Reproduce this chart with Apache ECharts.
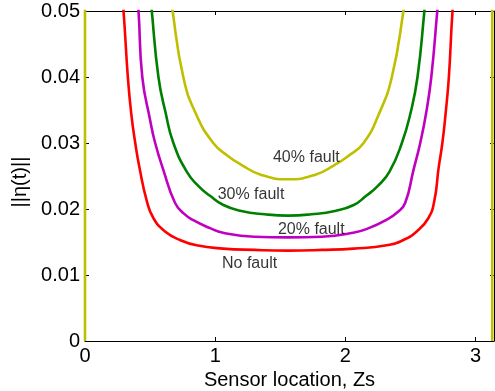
<!DOCTYPE html>
<html>
<head>
<meta charset="utf-8">
<script src="https://cdn.jsdelivr.net/npm/echarts@6/dist/echarts.min.js"></script>
<style>
html,body{margin:0;padding:0;background:#fff;}
#c{width:495px;height:391px;}
</style>
</head>
<body>
<div id="c"></div>
<script>
// Data: [Zs, ||eta(t)||]
const noFault = [[0.28,0.053],[0.296,0.05],[0.329,0.040],[0.355,0.0345],[0.386,0.030],[0.419,0.0262],[0.475,0.0212],[0.526,0.0186],[0.615,0.0166],[0.73,0.0153],[0.857,0.0145],[1.06,0.0140],[1.3,0.0138],[1.56,0.0137],[1.82,0.0138],[2.064,0.0140],[2.318,0.0145],[2.446,0.0153],[2.548,0.0166],[2.637,0.0186],[2.683,0.0212],[2.716,0.0262],[2.745,0.030],[2.77,0.0345],[2.795,0.040],[2.823,0.05],[2.84,0.053]];
const fault20 = [[0.395,0.053],[0.411,0.05],[0.44,0.040],[0.50,0.0335],[0.539,0.030],[0.602,0.0259],[0.692,0.0209],[0.76,0.0193],[0.832,0.0183],[0.96,0.0171],[1.06,0.0164],[1.3,0.0158],[1.56,0.0157],[1.82,0.0158],[2.06,0.0164],[2.18,0.0171],[2.318,0.0184],[2.40,0.0195],[2.459,0.0209],[2.523,0.0259],[2.575,0.030],[2.62,0.0345],[2.66,0.040],[2.706,0.05],[2.72,0.053]];
const fault30 = [[0.50,0.053],[0.513,0.05],[0.564,0.040],[0.62,0.0345],[0.679,0.030],[0.78,0.0257],[0.87,0.0235],[0.96,0.0220],[1.063,0.0206],[1.2,0.0197],[1.38,0.0192],[1.56,0.0190],[1.74,0.0192],[1.92,0.0197],[2.064,0.0206],[2.16,0.0220],[2.25,0.0235],[2.34,0.0257],[2.434,0.030],[2.50,0.0345],[2.554,0.040],[2.607,0.05],[2.62,0.053]];
const fault40 = [[0.66,0.053],[0.673,0.05],[0.755,0.040],[0.85,0.0345],[0.985,0.030],[1.1,0.0280],[1.2,0.0267],[1.35,0.0252],[1.56,0.0245],[1.77,0.0252],[1.92,0.0267],[2.02,0.0280],[2.14,0.030],[2.26,0.0345],[2.357,0.040],[2.446,0.05],[2.46,0.053]];
const fault40EdgeLeft = [[0,0],[0,0.053]];
const fault40EdgeRight = [[3.128,0],[3.128,0.053]];
const curveLabels = ['40% fault','30% fault','20% fault','No fault'];
const labelPos = [[1.70,0.0278],[1.275,0.0222],[1.738,0.0169],[1.264,0.0117]];
const xTicks = [0,1,2,3];
const yTicks = [0,0.01,0.02,0.03,0.04,0.05];
const xTitle = 'Sensor location, Zs';
const yTitle = '||\u03b7(t)||';

const FONT = 'Liberation Sans';
const chart = echarts.init(document.getElementById('c'), null, {renderer:'canvas'});
const axisLineStyle = {lineStyle:{color:'#000', width:1}};
function lineSeries(data, color, name){
  return {type:'line', name:name, data:data, smooth:0.5, showSymbol:false, symbol:'none',
    lineStyle:{color:color, width:2.6}, clip:true, silent:true, z:2};
}
chart.setOption({
  animation:false,
  backgroundColor:'#fff',
  grid:{left:85, right:1, top:11, bottom:50, containLabel:false, outerBoundsMode:'none'},
  xAxis:[{
    type:'value', min:0, max:Math.PI, position:'bottom',
    axisLine:{show:true, onZero:false, ...axisLineStyle},
    axisTick:{show:true, inside:true, length:4, customValues:xTicks, lineStyle:{color:'#000'}},
    axisLabel:{show:true, customValues:xTicks, color:'#000', fontFamily:FONT, fontSize:20, margin:5},
    splitLine:{show:false},
    name:xTitle, nameLocation:'middle', nameGap:26,
    nameTextStyle:{color:'#000', fontFamily:FONT, fontSize:20}
  },{
    type:'value', min:0, max:Math.PI, position:'top',
    axisLine:{show:true, onZero:false, ...axisLineStyle},
    axisTick:{show:true, inside:true, length:4, customValues:xTicks, lineStyle:{color:'#000'}},
    axisLabel:{show:false}, splitLine:{show:false}
  }],
  yAxis:[{
    type:'value', min:0, max:0.05, interval:0.01, position:'left',
    axisLine:{show:true, onZero:false, ...axisLineStyle},
    axisTick:{show:true, inside:true, length:4, customValues:yTicks, lineStyle:{color:'#000'}},
    axisLabel:{show:true, customValues:yTicks, color:'#000', fontFamily:FONT, fontSize:20, margin:5,
      formatter:function(v){return String(+v.toFixed(2));}},
    splitLine:{show:false},
    name:yTitle, nameLocation:'middle', nameGap:45, nameRotate:90,
    nameTextStyle:{color:'#000', fontFamily:FONT, fontSize:20, padding:[0,12,0,0]}
  },{
    type:'value', min:0, max:0.05, interval:0.01, position:'right',
    axisLine:{show:true, onZero:false, ...axisLineStyle},
    axisTick:{show:true, inside:true, length:4, customValues:yTicks, lineStyle:{color:'#000'}},
    axisLabel:{show:false}, splitLine:{show:false}
  }],
  series:[
    lineSeries(noFault, '#ff0000', 'No fault'),
    lineSeries(fault20, '#c000c0', '20% fault'),
    lineSeries(fault30, '#008000', '30% fault'),
    lineSeries(fault40, '#bfbf00', '40% fault'),
    {type:'line', data:fault40EdgeLeft, showSymbol:false, symbol:'none', lineStyle:{color:'#bfbf00', width:2.6}, clip:true, silent:true, z:3},
    {type:'line', data:fault40EdgeRight, showSymbol:false, symbol:'none', lineStyle:{color:'#bfbf00', width:2.6}, clip:true, silent:true, z:3},
    {type:'scatter', data:labelPos.map(function(p,i){return {value:p, name:curveLabels[i]};}),
      symbolSize:1, itemStyle:{color:'transparent'}, silent:true, z:5,
      label:{show:true, position:'inside', formatter:function(p){return p.name;}, color:'#000', fontFamily:FONT, fontSize:16}}
  ]
});
</script>
</body>
</html>
